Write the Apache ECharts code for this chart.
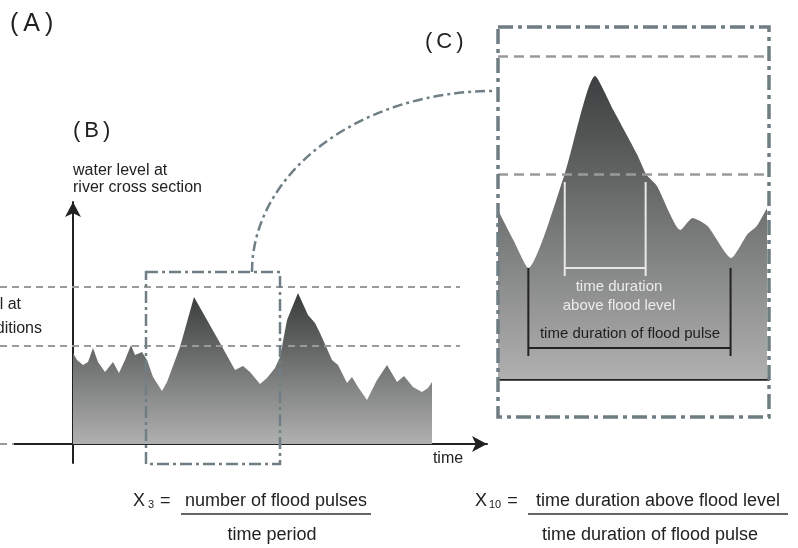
<!DOCTYPE html>
<html><head><meta charset="utf-8">
<script src="https://cdn.jsdelivr.net/npm/echarts@6/dist/echarts.min.js"></script>
<style>html,body{margin:0;padding:0;background:#fff}#c{width:798px;height:548px}</style>
</head><body><div id="c"></div>
<script>
// (B) hydrograph: time (days) and water level (cm above reference)
const timeDays   = [0,4,10,15,20,25,32,40,46,52,58,62,69,74,80,89,94,107,121,134,147,162,170,177,187,194,202,207,214,225,235,242,247,259,265,274,279,285,294,304,314,324,331,340,349,355,359];
const waterLevel = [91,84,79,82,96,82,72,82,71,84,99,89,92,84,67,53,62,97,147,124,101,74,78,72,60,66,76,87,124,151,129,121,111,84,79,61,67,57,44,64,79,62,68,57,52,56,62];
// (C) enlarged flood pulse
const pulseTime  = [73,80.6,88,106,121,130,141.7,146.2,151.6,163.2,169.2,176.6,188.3,196.4,201,206];
const pulseLevel = [80,65,51,98,147,130,108,98,92,70,76,72,56,68,72,81];
// reference levels (dashed) and spans
const levelLines = [157, 98];
const zoomWindow = [73, 207];
const floodSpan  = [106, 146];
const pulseSpan  = [88, 188];

const FONT = 'Liberation Sans, Arial, sans-serif';
const chart = echarts.init(document.getElementById('c'), null, {renderer: 'canvas'});

function grad(top, bottom) {
  return new echarts.graphic.LinearGradient(0, 0, 0, 1, [{offset: 0, color: top}, {offset: 1, color: bottom}]);
}
function bracket(span, top, bar, bottom, color) {
  const base = {type: 'line', xAxisIndex: 1, yAxisIndex: 1, symbol: 'none', silent: true, z: 6,
    lineStyle: {color: color, width: 2}, clip: false};
  return [
    Object.assign({}, base, {data: [[span[0], top], [span[0], bottom]]}),
    Object.assign({}, base, {data: [[span[1], top], [span[1], bottom]]}),
    Object.assign({}, base, {data: [[span[0], bar], [span[1], bar]]})
  ];
}

const option = {
  animation: false,
  backgroundColor: '#ffffff',
  grid: [
    {left: 14, right: 311, top: 202, bottom: 85},
    {left: 498, right: 29, top: 56, bottom: 169}
  ],
  xAxis: [
    {type: 'value', gridIndex: 0, min: -59, max: 414,
      axisLine: {show: true, onZero: true, symbol: ['none', 'arrow'], symbolSize: [12, 15],
        lineStyle: {color: '#222', width: 2}},
      axisTick: {show: false}, axisLabel: {show: false}, splitLine: {show: false}},
    {type: 'value', gridIndex: 1, min: zoomWindow[0], max: zoomWindow[1],
      axisLine: {show: true, onZero: false, lineStyle: {color: '#1e1e1e', width: 2.5}},
      axisTick: {show: false}, axisLabel: {show: false}, splitLine: {show: false}}
  ],
  yAxis: [
    {type: 'value', gridIndex: 0, min: -19, max: 242,
      axisLine: {show: true, onZero: true, symbol: ['none', 'arrow'], symbolSize: [12, 15],
        lineStyle: {color: '#222', width: 2}},
      axisTick: {show: false}, axisLabel: {show: false}, splitLine: {show: false}},
    {type: 'value', gridIndex: 1, min: -4.5, max: 157, show: false,
      splitLine: {show: false}}
  ],
  series: [
    {type: 'line', xAxisIndex: 0, yAxisIndex: 0, symbol: 'none', silent: true, z: 2,
      data: timeDays.map((t, i) => [t, waterLevel[i]]),
      lineStyle: {width: 0}, areaStyle: {opacity: 1, color: grad('#383b3b', '#b0b0b0')}},
    {type: 'line', xAxisIndex: 1, yAxisIndex: 1, symbol: 'none', silent: true, z: 2, smooth: 0.2,
      data: pulseTime.map((t, i) => [t, pulseLevel[i]]),
      lineStyle: {width: 0}, areaStyle: {opacity: 1, origin: 'start', color: grad('#3c3f3f', '#b0b0b0')},
      markLine: {silent: true, symbol: 'none', label: {show: false}, z: 7,
        lineStyle: {color: '#9a9a9a', type: [10, 6], width: 2.5},
        data: levelLines.map(v => ({yAxis: v}))}}
  ].concat(bracket(floodSpan, 94, 51, 47, '#e8e8e8'), bracket(pulseSpan, 51, 11, 7, '#222'))
};
chart.setOption(option);

const px = (t, L) => chart.convertToPixel({gridIndex: 0}, [t, L]);
const g = [];
// dashed reference levels in (B)
levelLines.forEach(L => {
  const a = px(-73, L), b = px(387, L);
  g.push({type: 'line', z: 50, shape: {x1: a[0], y1: a[1], x2: b[0], y2: b[1]},
    style: {stroke: '#9a9a9a', lineWidth: 2, lineDash: [7, 5]}});
});
{
  const a = px(-73, 0), b = px(-59, 0);
  g.push({type: 'line', z: 50, shape: {x1: a[0], y1: a[1], x2: b[0], y2: b[1]},
    style: {stroke: '#9a9a9a', lineWidth: 2, lineDash: [7, 5]}});
}
// zoom box in (B)
const b1 = px(zoomWindow[0], 172), b2 = px(zoomWindow[1], -20);
g.push({type: 'rect', z: 60, shape: {x: b1[0], y: b1[1], width: b2[0] - b1[0], height: b2[1] - b1[1]},
  style: {fill: 'none', stroke: '#6f7f85', lineWidth: 2.5, lineDash: [12, 4, 3, 4]}});
// connector to (C)
const s = px(179, 172);
const e = [494, 91];
g.push({type: 'bezierCurve', z: 60,
  shape: {x1: s[0], y1: s[1], x2: e[0], y2: e[1], cpx1: s[0], cpy1: s[1] - 0.5523 * (s[1] - e[1]),
    cpx2: e[0] - 0.5523 * (e[0] - s[0]), cpy2: e[1]},
  style: {fill: 'none', stroke: '#6f7f85', lineWidth: 2.5, lineDash: [10, 4, 3, 4]}});
// (C) frame
g.push({type: 'rect', z: 60, shape: {x: 498, y: 27, width: 271, height: 390},
  style: {fill: 'none', stroke: '#6f7d82', lineWidth: 3.5, lineDash: [15, 5, 4, 5]}});

function txt(text, x, y, size, align, color, extra) {
  return Object.assign({type: 'text', z: 70, style: {text: text, x: x, y: y, fontSize: size,
    fontFamily: FONT, fill: color || '#222', textAlign: align || 'left', textVerticalAlign: 'middle'}}, extra || {});
}
function panel(letter, x, y, size) {
  return {type: 'text', z: 70, style: {text: '{p|(}{c|' + letter + '}{p|)}', x: x, y: y,
    textAlign: 'left', textVerticalAlign: 'middle', fill: '#222', fontFamily: FONT, fontSize: size,
    rich: {p: {fontSize: size, fontFamily: FONT, fill: '#222'},
           c: {fontSize: size, fontFamily: FONT, fill: '#222', padding: [0, Math.round(size * 0.2)]}}}};
}
g.push(panel('A', 10, 24, 25));
g.push(panel('B', 73, 131, 22));
g.push(panel('C', 425, 42, 22));
g.push(txt('water level at', 73, 171, 16));
g.push(txt('river cross section', 73, 188, 16));
g.push(txt('water level at', 21, 305, 16, 'right'));
g.push(txt('flood conditions', 42, 329, 16, 'right'));
g.push(txt('time', 448, 459, 16, 'center'));
g.push(txt('time duration', 619, 287, 15, 'center', '#ececec'));
g.push(txt('above flood level', 619, 306, 15, 'center', '#ececec'));
g.push(txt('time duration of flood pulse', 630, 334, 15, 'center', '#1e1e1e'));
// formulas
g.push({type: 'text', z: 70, style: {text: '{x|X}{s|3}{x| =}', x: 133, y: 501, textAlign: 'left',
  textVerticalAlign: 'middle', fontFamily: FONT, fontSize: 18, fill: '#222',
  rich: {x: {fontSize: 18, fontFamily: FONT, fill: '#222'},
         s: {fontSize: 11, fontFamily: FONT, fill: '#222', verticalAlign: 'bottom', padding: [0, 1, 0, 3]}}}});
g.push(txt('number of flood pulses', 276, 501, 18, 'center'));
g.push({type: 'line', z: 70, shape: {x1: 181, y1: 514, x2: 371, y2: 514}, style: {stroke: '#333', lineWidth: 1.6}});
g.push(txt('time period', 272, 535, 18, 'center'));
g.push({type: 'text', z: 70, style: {text: '{x|X}{s|10}{x| =}', x: 475, y: 501, textAlign: 'left',
  textVerticalAlign: 'middle', fontFamily: FONT, fontSize: 18, fill: '#222',
  rich: {x: {fontSize: 18, fontFamily: FONT, fill: '#222'},
         s: {fontSize: 11, fontFamily: FONT, fill: '#222', verticalAlign: 'bottom', padding: [0, 1, 0, 2]}}}});
g.push(txt('time duration above flood level', 658, 501, 18, 'center'));
g.push({type: 'line', z: 70, shape: {x1: 528, y1: 514, x2: 788, y2: 514}, style: {stroke: '#333', lineWidth: 1.6}});
g.push(txt('time duration of flood pulse', 650, 535, 18, 'center'));

chart.setOption({graphic: g});
</script>
</body></html>
